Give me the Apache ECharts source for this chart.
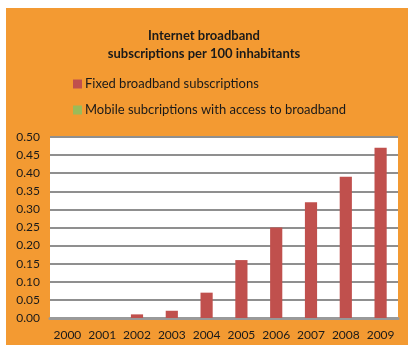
<!DOCTYPE html>
<html>
<head>
<meta charset="utf-8">
<script src="https://cdn.jsdelivr.net/npm/echarts@6/dist/echarts.min.js"></script>
<style>
html,body{margin:0;padding:0;background:#fff;}
#c{width:408px;height:345px;}
</style>
</head>
<body>
<div id="c"></div>
<script>
var categories = ['2000','2001','2002','2003','2004','2005','2006','2007','2008','2009'];
var fixedValues = [0, 0, 0.01, 0.02, 0.07, 0.16, 0.25, 0.32, 0.39, 0.47];
var mobileValues = [null, null, null, null, null, null, null, null, null, null];
var titleText = 'Internet broadband\nsubscriptions per 100 inhabitants';
var seriesNames = ['Fixed broadband subscriptions', 'Mobile subcriptions with access to broadband'];

var chart = echarts.init(document.getElementById('c'), null, {renderer:'canvas'});
var font = 'Lato, "Open Sans", sans-serif';
chart.setOption({
  backgroundColor: '#ffffff',
  animation: false,
  graphic: [{
    type: 'rect', z: -10, silent: true,
    shape: {x: 6, y: 8, width: 402, height: 337},
    style: {fill: '#F39A32'}
  }],
  title: {
    text: titleText,
    left: 'center', top: 22,
    textStyle: {fontFamily: font, fontSize: 13, fontWeight: 'bold', color: '#1a1a1a', lineHeight: 18}
  },
  legend: {
    orient: 'vertical', left: 73, top: 77, padding: 0,
    itemWidth: 9, itemHeight: 9, itemGap: 12,
    icon: 'rect',
    itemStyle: {borderWidth: 0},
    textStyle: {fontFamily: font, fontSize: 13, color: '#1a1a1a', padding: [0,0,0,-2], lineHeight: 14},
    data: seriesNames
  },
  grid: {
    left: 50, top: 137, right: 10, bottom: 27,
    show: true, backgroundColor: '#ffffff', borderWidth: 0
  },
  xAxis: {
    type: 'category', data: categories,
    axisTick: {show: false},
    axisLine: {lineStyle: {color: '#999999', width: 3}},
    axisLabel: {interval: 0, fontFamily: font, fontSize: 12, color: '#1a1a1a', margin: 11}
  },
  yAxis: {
    type: 'value', min: 0, max: 0.5, interval: 0.05,
    axisLine: {show: false}, axisTick: {show: false},
    splitLine: {lineStyle: {color: '#8f8f8f', width: 2}},
    axisLabel: {fontFamily: font, fontSize: 12, color: '#1a1a1a', margin: 10,
      formatter: function(v){ return v.toFixed(2); }}
  },
  series: [{
    name: seriesNames[0], type: 'bar', data: fixedValues,
    barWidth: '35%', barGap: '-100%',
    itemStyle: {color: '#C0504D'}
  }, {
    name: seriesNames[1], type: 'bar', data: mobileValues,
    barWidth: '35%',
    itemStyle: {color: '#9BBB59'}
  }]
});
</script>
</body>
</html>
